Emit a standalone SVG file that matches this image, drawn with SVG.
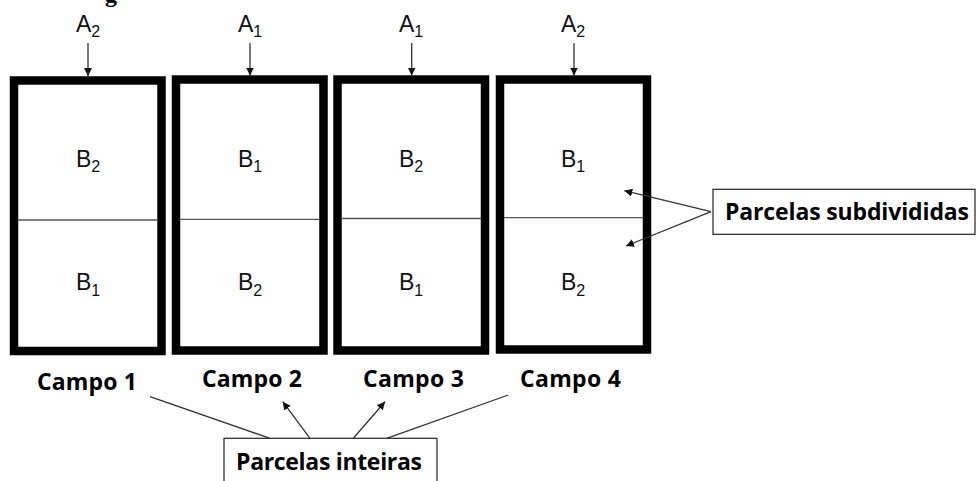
<svg xmlns="http://www.w3.org/2000/svg" width="977" height="481" viewBox="0 0 977 481">
  <style>
    .field { fill: #fff; stroke: #000; stroke-width: 8.5; }
    .split { stroke: #555; stroke-width: 1.3; }
    .lbl { font-family: "Liberation Sans", Arial, sans-serif; font-size: 23px; fill: #111; text-anchor: middle; }
    .sub { font-size: 16px; }
    .cap { font-family: "Open Sans", "Noto Sans", sans-serif; font-weight: bold; font-size: 23px; fill: #000; text-anchor: middle; }
    .tag { fill: #fff; stroke: #222; stroke-width: 1.2; }
    .wire { stroke: #333; stroke-width: 1.3; fill: none; }
    .arr { marker-end: url(#head); }
  </style>
  <defs>
    <marker id="head" markerUnits="userSpaceOnUse" markerWidth="10" markerHeight="8" refX="8" refY="4" orient="auto">
      <path d="M0,0 L8,4 L0,8 Z" fill="#111"/>
    </marker>
  </defs>

  <rect width="977" height="481" fill="#fff"/>

  <!-- descender of the heading above, cut off by the top edge -->
  <text x="111" y="2" font-family="Liberation Serif, serif" font-weight="bold" font-size="24" text-anchor="middle">g</text>

  <!-- field 1 -->
  <g id="campo1">
    <rect class="field" x="14" y="80.5" width="147.5" height="270.5"/>
    <line class="split" x1="18" y1="220" x2="157" y2="220"/>
    <text class="lbl" x="88" y="32">A<tspan class="sub" dy="5">2</tspan></text>
    <text class="lbl" x="88" y="167">B<tspan class="sub" dy="5">2</tspan></text>
    <text class="lbl" x="88" y="290">B<tspan class="sub" dy="6">1</tspan></text>
    <text class="cap" x="87" y="390" textLength="100">Campo 1</text>
  </g>

  <!-- field 2 -->
  <g id="campo2">
    <rect class="field" x="176" y="79.5" width="147.5" height="271"/>
    <line class="split" x1="180" y1="219.3" x2="319" y2="219.3"/>
    <text class="lbl" x="250" y="32">A<tspan class="sub" dy="5">1</tspan></text>
    <text class="lbl" x="250" y="167">B<tspan class="sub" dy="5">1</tspan></text>
    <text class="lbl" x="250" y="290">B<tspan class="sub" dy="6">2</tspan></text>
    <text class="cap" x="252" y="387" textLength="100">Campo 2</text>
  </g>

  <!-- field 3 -->
  <g id="campo3">
    <rect class="field" x="337.5" y="79.5" width="147.5" height="271"/>
    <line class="split" x1="341" y1="218.5" x2="481" y2="218.5"/>
    <text class="lbl" x="411" y="32">A<tspan class="sub" dy="5">1</tspan></text>
    <text class="lbl" x="411" y="167">B<tspan class="sub" dy="5">2</tspan></text>
    <text class="lbl" x="411" y="290">B<tspan class="sub" dy="6">1</tspan></text>
    <text class="cap" x="413.5" y="387" textLength="101">Campo 3</text>
  </g>

  <!-- field 4 -->
  <g id="campo4">
    <rect class="field" x="500" y="79.5" width="147" height="270"/>
    <line class="split" x1="504" y1="217.7" x2="643" y2="217.7"/>
    <text class="lbl" x="573" y="32">A<tspan class="sub" dy="5">2</tspan></text>
    <text class="lbl" x="573" y="167">B<tspan class="sub" dy="5">1</tspan></text>
    <text class="lbl" x="573" y="290">B<tspan class="sub" dy="6">2</tspan></text>
    <text class="cap" x="570.5" y="387" textLength="101">Campo 4</text>
  </g>

  <!-- callout: split plots -->
  <g id="parcelas-subdivididas">
    <rect class="tag" x="713" y="189.3" width="262" height="45"/>
    <text class="cap" x="847" y="220" textLength="244">Parcelas subdivididas</text>
  </g>

  <!-- callout: whole plots -->
  <g id="parcelas-inteiras">
    <rect class="tag" x="224" y="438.3" width="213" height="60"/>
    <text class="cap" x="329" y="470" textLength="186">Parcelas inteiras</text>
  </g>

  <!-- connectors -->
  <g id="connectors">
    <line class="wire arr" x1="88" y1="43" x2="88" y2="76"/>
    <line class="wire arr" x1="250" y1="43" x2="250" y2="75.5"/>
    <line class="wire arr" x1="411.7" y1="43" x2="411.7" y2="75.5"/>
    <line class="wire arr" x1="574" y1="43" x2="574" y2="75.5"/>

    <line class="wire arr" x1="711" y1="211.7" x2="624.3" y2="190.7"/>
    <line class="wire arr" x1="711" y1="211.7" x2="626" y2="246"/>

    <line class="wire" x1="150" y1="396.7" x2="270" y2="438.3"/>
    <line class="wire arr" x1="310" y1="438.3" x2="282.7" y2="401.7"/>
    <line class="wire arr" x1="353.3" y1="438.3" x2="385" y2="401.7"/>
    <line class="wire" x1="386.7" y1="438.3" x2="508.3" y2="395"/>
  </g>
</svg>
